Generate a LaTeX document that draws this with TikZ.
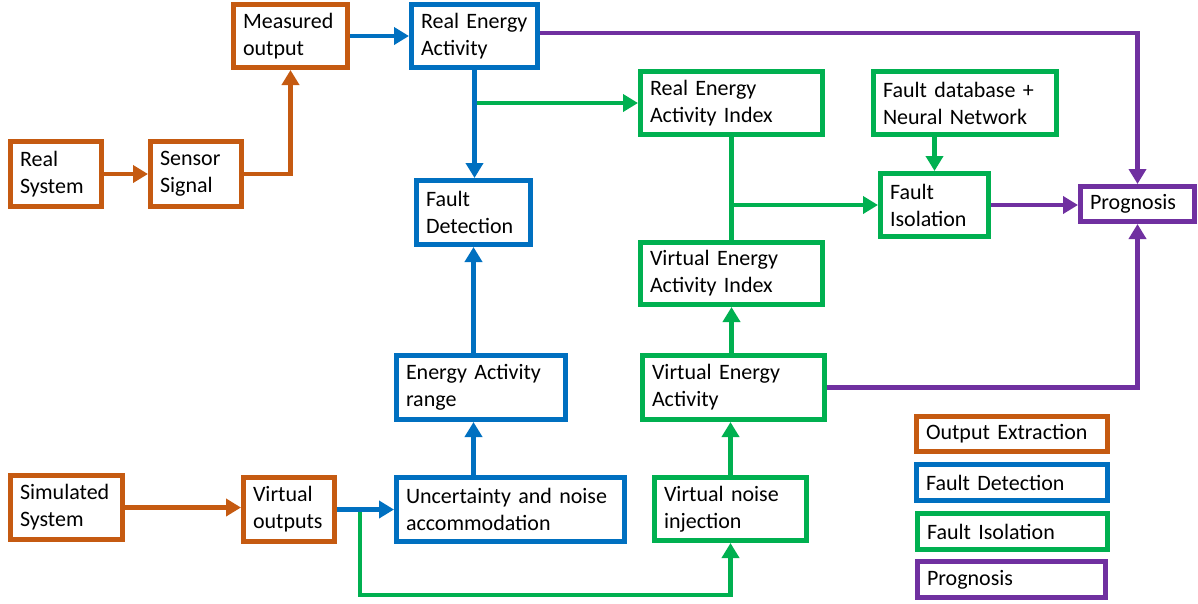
\documentclass[tikz,border=0pt]{standalone}
\usepackage{fontspec}
\setmainfont{Carlito}
\usetikzlibrary{arrows.meta}
\definecolor{cOr}{HTML}{C55A11}
\definecolor{cBl}{HTML}{0070C0}
\definecolor{cGr}{HTML}{00B050}
\definecolor{cPu}{HTML}{7030A0}
\begin{document}
\begin{tikzpicture}[x=1pt,y=-1pt,
  box/.style={draw=#1, line width=5pt, fill=white, align=left, inner xsep=9.5pt, inner ysep=2pt, font=\fontsize{22}{27}\selectfont, rectangle},
  conn/.style={draw=#1, line width=4.6pt, -{Triangle[width=17pt,length=15pt]}},
  plain/.style={draw=#1, line width=4.6pt},
]
\path[use as bounding box] (0,0) rectangle (1198,603);
% nodes
\node[box=cOr, minimum width=114pt, minimum height=63pt, text width=95pt] (meas) at (290.5,36) {Measured\\output};
\node[box=cBl, minimum width=126pt, minimum height=63pt, text width=107pt] (rea) at (474.5,36) {Real Energy\\Activity};
\node[box=cOr, minimum width=91pt, minimum height=65pt, text width=72pt] (rs) at (56,174) {Real\\System};
\node[box=cOr, minimum width=91pt, minimum height=65pt, text width=72pt] (ss) at (196,174) {Sensor\\Signal};
\node[box=cBl, minimum width=114pt, minimum height=64pt, text width=95pt] (fd) at (473.5,212.5) {Fault\\Detection};
\node[box=cGr, minimum width=182pt, minimum height=63pt, text width=163pt] (reai) at (731.5,103) {Real Energy\\Activity Index};
\node[box=cGr, minimum width=183pt, minimum height=63pt, text width=164pt] (fdb) at (965,103) {Fault database +\\Neural Network};
\node[box=cGr, minimum width=108pt, minimum height=63pt, text width=89pt] (fi) at (934.5,205) {Fault\\Isolation};
\node[box=cPu, minimum width=114pt, minimum height=35pt, text width=95pt] (prog) at (1137.5,204) {Prognosis};
\node[box=cGr, minimum width=182pt, minimum height=62pt, text width=163pt] (veai) at (731.5,273.5) {Virtual Energy\\Activity Index};
\node[box=cGr, minimum width=182pt, minimum height=64pt, text width=163pt] (vea) at (733.5,387.5) {Virtual Energy\\Activity};
\node[box=cBl, minimum width=169pt, minimum height=64pt, text width=150pt] (ear) at (481,387.5) {Energy Activity\\range};
\node[box=cOr, minimum width=112pt, minimum height=64pt, text width=93pt] (sim) at (66.5,507.5) {Simulated\\System};
\node[box=cOr, minimum width=91pt, minimum height=64pt, text width=72pt] (vo) at (289,509.5) {Virtual\\outputs};
\node[box=cBl, minimum width=228pt, minimum height=64pt, text width=209pt] (unc) at (510.5,509.5) {Uncertainty and noise\\accommodation};
\node[box=cGr, minimum width=152pt, minimum height=63pt, text width=133pt] (vni) at (730.5,509) {Virtual noise\\injection};
% legend
\node[box=cOr, minimum width=191pt, minimum height=35pt, text width=172pt] (l1) at (1012,434) {Output Extraction};
\node[box=cBl, minimum width=191pt, minimum height=36pt, text width=172pt] (l2) at (1012,482.5) {Fault Detection};
\node[box=cGr, minimum width=190pt, minimum height=36pt, text width=171pt] (l3) at (1012.5,531.5) {Fault Isolation};
\node[box=cPu, minimum width=188pt, minimum height=36pt, text width=169pt] (l4) at (1011.5,579.5) {Prognosis};
% coordinates
\coordinate (g1) at (rea.south |- reai.west);
\coordinate (g2) at (reai.south |- fi.west);
\coordinate (gb) at (360,509.5);
\coordinate (gd) at (360,595);
% orange connectors
\draw[conn=cOr] (rs) -- (ss);
\draw[conn=cOr] (ss.east) -| (meas.south);
\draw[conn=cOr] (sim.east) -- (sim.east -| vo.west);
% green connectors
\draw[conn=cGr] (g1) -- (reai.west);
\draw[plain=cGr] (reai.south) -- (veai.north);
\draw[conn=cGr] (g2) -- (fi.west);
\draw[conn=cGr] (fi.north |- fdb.south) -- (fi.north);
\draw[conn=cGr] (veai.south |- vea.north) -- (veai.south);
\draw[conn=cGr] (vni.north) -- (vni.north |- vea.south);
\draw[conn=cGr] (gb) -- (gd) -| (vni.south);
% blue connectors
\draw[conn=cBl] (meas) -- (rea);
\draw[conn=cBl] (rea.south) -- (rea.south |- fd.north);
\draw[conn=cBl] (fd.south |- ear.north) -- (fd.south);
\draw[conn=cBl] (fd.south |- unc.north) -- (fd.south |- ear.south);
\draw[conn=cBl] (vo.east) -- (unc.west);
% purple connectors
\draw[conn=cPu] ([yshift=3pt]rea.east) -| (prog.north);
\draw[conn=cPu] (fi.east) -- (fi.east -| prog.west);
\draw[conn=cPu] (vea.east) -| (prog.south);
\end{tikzpicture}
\end{document}
